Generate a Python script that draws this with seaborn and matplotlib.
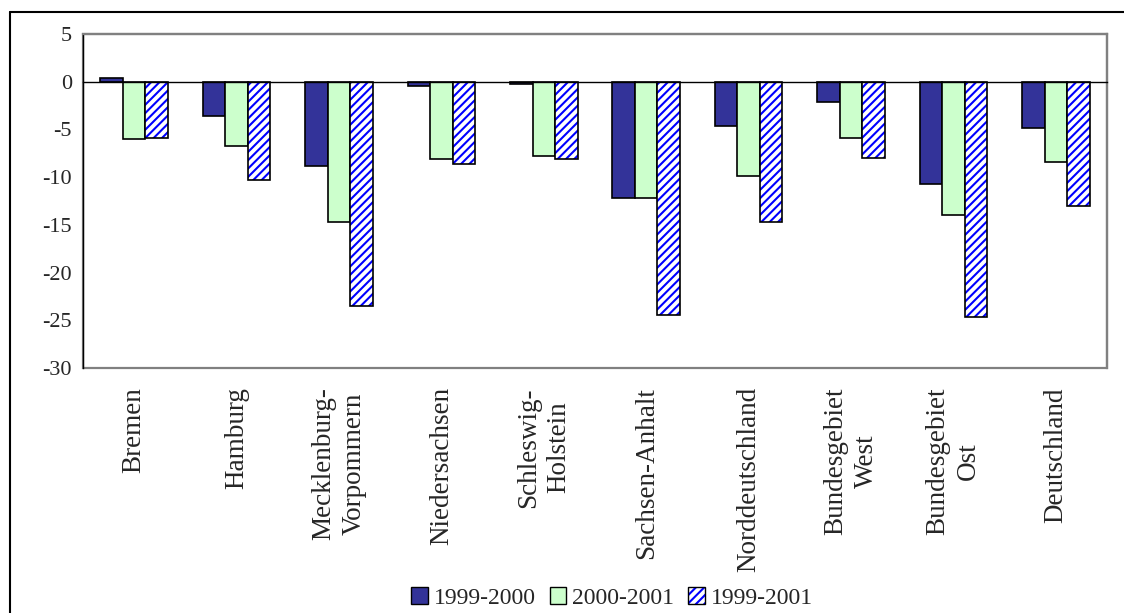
import numpy as np
import pandas as pd
import matplotlib
matplotlib.use("Agg")
import matplotlib.pyplot as plt
import matplotlib.patches as mpatches
import matplotlib.transforms as mtransforms
from matplotlib.lines import Line2D
from matplotlib.legend_handler import HandlerTuple
import seaborn as sns

# --- data ---
regions = ["Bremen", "Hamburg", "Mecklenburg-\nVorpommern", "Niedersachsen",
           "Schleswig-\nHolstein", "Sachsen-Anhalt", "Norddeutschland",
           "Bundesgebiet\nWest", "Bundesgebiet\nOst", "Deutschland"]
periods = ["1999-2000", "2000-2001", "1999-2001"]
v_99_00 = [0.4, -3.6, -8.85, -0.45, -0.25, -12.2, -4.65, -2.1, -10.7, -4.8]
v_00_01 = [-6.05, -6.75, -14.7, -8.15, -7.8, -12.2, -9.9, -5.9, -14.0, -8.4]
v_99_01 = [-5.9, -10.3, -23.5, -8.6, -8.15, -24.4, -14.7, -8.0, -24.7, -13.0]
yticks = [-30, -25, -20, -15, -10, -5, 0, 5]

df = pd.DataFrame({
    "region": regions * 3,
    "period": np.repeat(periods, len(regions)),
    "value": v_99_00 + v_00_01 + v_99_01,
})

# --- style ---
sns.set_style("white")
plt.rcParams["font.family"] = ["Liberation Serif", "DejaVu Serif"]
plt.rcParams["axes.unicode_minus"] = False
plt.rcParams["hatch.linewidth"] = 1.5

NAVY = "#333399"
MINT = "#CCFFCC"
BLUE = "#0000FF"
GRAY = "#808080"

fig = plt.figure(figsize=(11.24, 6.13), dpi=100)
ax = fig.add_axes([83 / 1124, 1 - 368 / 613, (1107 - 83) / 1124, (368 - 34) / 613])

sns.barplot(data=df, x="region", y="value", hue="period", order=regions,
            hue_order=periods, palette=[NAVY, MINT, "white"], width=0.66,
            saturation=1, edgecolor="black", linewidth=1.2, legend=False, ax=ax)

# hatched series: blue stripes, black outline drawn on top
for bar in ax.containers[2]:
    bar.set_edgecolor(BLUE)
    bar.set_linewidth(0)
    bar.set_hatch("////")
    ax.add_patch(mpatches.Rectangle(bar.get_xy(), bar.get_width(), bar.get_height(),
                                    fill=False, edgecolor="black", linewidth=1.2, zorder=3))

ax.set_xlim(-0.5, len(regions) - 0.5)
ax.set_ylim(min(yticks), max(yticks))
ax.set_yticks(yticks)
ax.set_xlabel("")
ax.set_ylabel("")

# zero line with category-boundary ticks
ax.spines["bottom"].set_position(("data", 0))
ax.spines["bottom"].set_color("black")
ax.spines["bottom"].set_linewidth(1.0)
ax.set_xticks(np.arange(-0.5, len(regions)))
ax.set_xticklabels([])
ax.tick_params(axis="x", direction="out", length=6, width=1, color="black")
ax.tick_params(axis="y", direction="out", length=5, width=1, color="black",
               labelsize=16, pad=3)
for s in ["top", "right"]:
    ax.spines[s].set_color(GRAY)
    ax.spines[s].set_linewidth(1.6)
ax.spines["left"].set_color("black")
ax.spines["left"].set_linewidth(1.0)
ax.add_patch(mpatches.Rectangle((0, 0), 1, 1, transform=ax.transAxes, fill=False,
                                edgecolor=GRAY, linewidth=1.6, clip_on=False, zorder=0))

# category labels below the plot area
trans = mtransforms.blended_transform_factory(ax.transData, ax.transAxes)
for i, r in enumerate(regions):
    ax.text(i, -0.057, r, transform=trans, rotation=90, ha="center", va="top",
            multialignment="center", fontsize=19.5, linespacing=1.3)

# legend
handles = [mpatches.Patch(facecolor=NAVY, edgecolor="black", linewidth=1),
           mpatches.Patch(facecolor=MINT, edgecolor="black", linewidth=1),
           (mpatches.Patch(facecolor="white", edgecolor=BLUE, hatch="////", linewidth=0),
            mpatches.Patch(fill=False, edgecolor="black", linewidth=1))]
leg = fig.legend(handles, periods, loc="center", bbox_to_anchor=(612 / 1124, 1 - 598 / 613),
                 ncol=3, frameon=False, fontsize=17, handlelength=0.7, handleheight=0.7,
                 handletextpad=0.25, columnspacing=0.6, borderpad=0,
                 handler_map={tuple: HandlerTuple(ndivide=1, pad=0)})

# outer chart border (left and top edges visible)
fig.add_artist(Line2D([10 / 1124, 10 / 1124], [0, 1 - 12 / 613],
                      transform=fig.transFigure, color="black", linewidth=1.5))
fig.add_artist(Line2D([10 / 1124, 1], [1 - 12 / 613, 1 - 12 / 613],
                      transform=fig.transFigure, color="black", linewidth=1.5))

plt.savefig("out.png", dpi=100)
